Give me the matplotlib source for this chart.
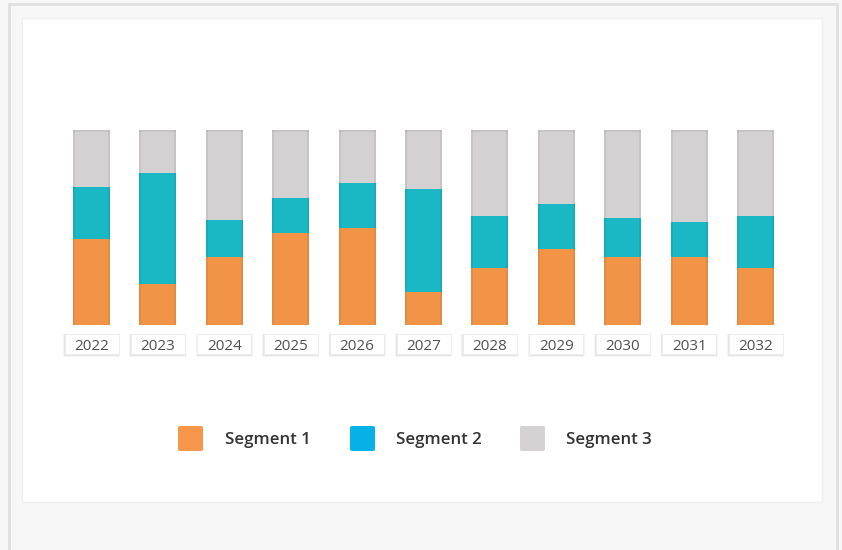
import matplotlib
matplotlib.use("Agg")
import matplotlib.pyplot as plt
from matplotlib.patches import Rectangle, FancyBboxPatch
from matplotlib.transforms import blended_transform_factory
import numpy as np

years = ["2022", "2023", "2024", "2025", "2026", "2027", "2028", "2029", "2030", "2031", "2032"]
segment1 = [44, 21, 35, 47, 50, 17, 29, 39, 35, 35, 29]
segment2 = [27, 57, 19, 18, 23, 53, 27, 23, 20, 18, 27]
segment3 = [29, 22, 46, 35, 27, 30, 44, 38, 45, 47, 44]
series_names = ["Segment 1", "Segment 2", "Segment 3"]
bar_colors = ["#f29447", "#19b8c4", "#d3d1d2"]
legend_colors = ["#f5964a", "#05b1e6", "#d4d2d3"]

W, H = 842, 550
fig = plt.figure(figsize=(W / 100, H / 100), dpi=100)
fig.patch.set_facecolor("#f7f7f7")

def px_rect(x0, y0, x1, y1, **kw):
    return Rectangle((x0 / W, 1 - y1 / H), (x1 - x0) / W, (y1 - y0) / H,
                     transform=fig.transFigure, **kw)

# outer border and white panel
fig.patches.append(px_rect(9, 4, 837, 560, facecolor="#f7f7f7", edgecolor="#e0e0e0", linewidth=2, zorder=-3))
fig.patches.append(px_rect(22, 18, 822, 502, facecolor="white", edgecolor="#efefef", linewidth=1, zorder=-2))

# axes covering bar area
top_px, bot_px = 130, 325
ax = fig.add_axes([22 / W, 1 - bot_px / H, 800 / W, (bot_px - top_px) / H])
ax.set_zorder(5)
ax.set_facecolor("none")
ax.set_xlim(-1.047, 11.0)
ax.set_ylim(0, 100)
ax.axis("off")

x = np.arange(len(years))
bw = 0.557
s1 = np.array(segment1, float)
s2 = np.array(segment2, float)
s3 = np.array(segment3, float)
tot = s1 + s2 + s3
p1 = s1 / tot * 100
p2 = s2 / tot * 100
p3 = s3 / tot * 100
bottoms = [np.zeros_like(p1), p1, p1 + p2]
for vals, b, c in zip([p1, p2, p3], bottoms, bar_colors):
    ax.bar(x, vals, bottom=b, width=bw, color=c, edgecolor="none", zorder=2)
    ax.bar(x - bw / 2 + 0.015, vals, bottom=b, width=0.03, color="black", alpha=0.06, zorder=3, linewidth=0)
    ax.bar(x + bw / 2 - 0.015, vals, bottom=b, width=0.03, color="black", alpha=0.06, zorder=3, linewidth=0)
ax.bar(x, 1.0, bottom=99.0, width=bw, color="black", alpha=0.06, zorder=3, linewidth=0)

# year label boxes
trans = blended_transform_factory(ax.transData, fig.transFigure)
box_w = 54 / 66.4
yc = 1 - 344.3 / H
bh = 20 / H
for xi, yr in zip(x, years):
    for k, a in [(3, 0.04), (1.5, 0.06)]:
        ax.add_patch(Rectangle((xi - box_w / 2 - k * 0.5 / 66.4, yc - bh / 2 - k / H), box_w + k / 66.4, bh + k / H,
                               transform=trans, facecolor="#000000", alpha=a, edgecolor="none",
                               clip_on=False, zorder=4))
    ax.add_patch(Rectangle((xi - box_w / 2, yc - bh / 2), box_w, bh, transform=trans,
                           facecolor="white", edgecolor="#ececec", linewidth=0.6, clip_on=False, zorder=5))
    ax.text(xi, yc, yr, transform=trans, ha="center", va="center_baseline", fontsize=11,
            family="Open Sans", color="#505050", zorder=6)

# legend
leg_sq_x = [178, 350, 520]
leg_txt_x = [225, 396, 566]
ly1 = 451
for sx, tx, c, name in zip(leg_sq_x, leg_txt_x, legend_colors, series_names):
    fig.patches.append(FancyBboxPatch((sx / W, 1 - ly1 / H), 25 / W, 25 / H,
                                      boxstyle="round,pad=0,rounding_size=0.003",
                                      transform=fig.transFigure, facecolor=c, edgecolor="none"))
    fig.text(tx / W, 1 - 437.5 / H, name, ha="left", va="center_baseline", fontsize=12.2,
             family="Open Sans", color="#333333", fontweight="semibold")

fig.savefig("out.png", dpi=100, facecolor=fig.get_facecolor())
